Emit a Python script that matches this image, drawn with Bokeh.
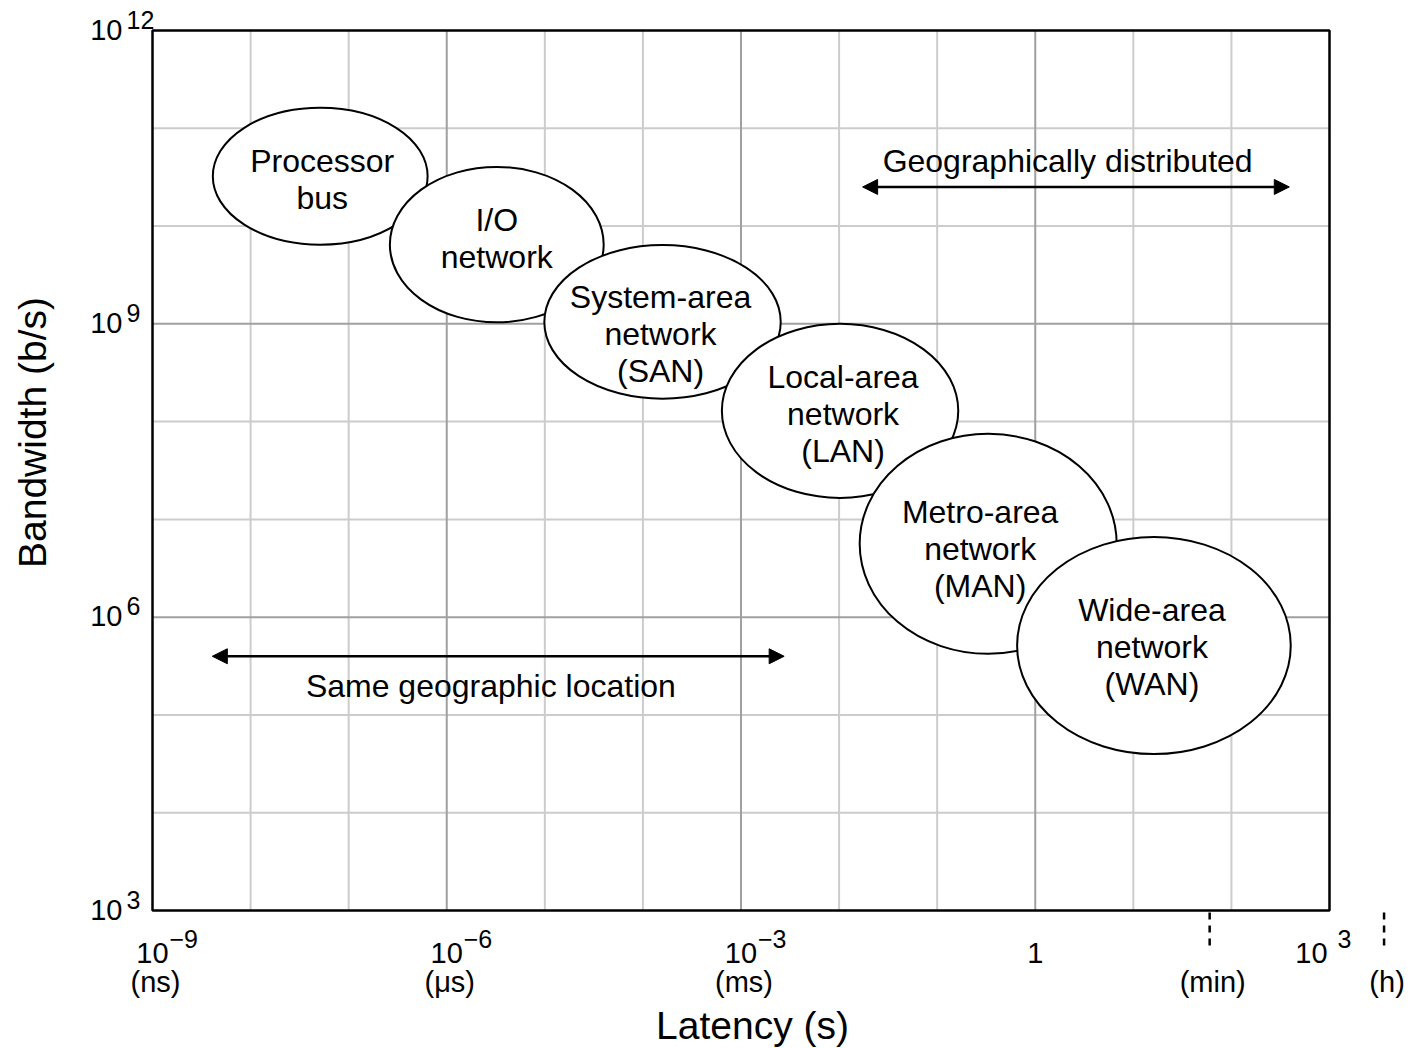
import math

from bokeh.core.properties import value
from bokeh.embed import file_html
from bokeh.models import Arrow, NormalHead, ColumnDataSource
from bokeh.plotting import figure
from bokeh.resources import INLINE

FONT = "Liberation Sans"

# Axes are in decades: log10 latency (s) and log10 bandwidth (b/s)
lat_min, lat_max = -9, 3
bw_min, bw_max = 3, 12

# Network classes: centre and extent of each region, in decades
net_lines = [
    ["Processor", "bus"],
    ["I/O", "network"],
    ["System-area", "network", "(SAN)"],
    ["Local-area", "network", "(LAN)"],
    ["Metro-area", "network", "(MAN)"],
    ["Wide-area", "network", "(WAN)"],
]
net_lat = [-7.29, -5.49, -3.80, -1.99, -0.48, 1.21]
net_bw = [10.51, 9.81, 9.02, 8.11, 6.75, 5.71]
net_lat_span = [2.19, 2.18, 2.41, 2.41, 2.62, 2.79]
net_bw_span = [1.40, 1.59, 1.57, 1.78, 2.25, 2.22]

# Locality ranges drawn as double-headed arrows
range_text = ["Same geographic location", "Geographically distributed"]
range_lat_lo = [-8.39, -1.76]
range_lat_hi = [-2.56, 2.59]
range_bw = [5.60, 10.40]
range_text_lat = [-5.55, 0.33]
range_text_bw = [5.18, 10.55]

# Tick labels
x_ticks = [-9, -6, -3, 0, 3]
x_tick_base = ["10", "10", "10", "1", "10"]
x_tick_exp = ["\u22129", "\u22126", "\u22123", "", "3"]
unit_lat = [-9, -6, -3, math.log10(60), math.log10(3600)]
unit_text = ["(ns)", "(\u03bcs)", "(ms)", "(min)", "(h)"]
marked_seconds = [60, 3600]
y_ticks = [3, 6, 9, 12]
y_tick_exp = ["3", "6", "9", "12"]

# Canvas and plot-area geometry (pixels)
W, H = 1415, 1048
PL, PR, PT, PB = 152, 1329, 30, 910
PX_X = (PR - PL) / (lat_max - lat_min)
PX_Y = (PB - PT) / (bw_max - bw_min)
BASE_FIX = 11  # lift alphabetic baselines to where the glyph rows should sit


def dx(px):
    return px / PX_X


def dy(px):
    return px / PX_Y


p = figure(
    width=W, height=H,
    x_range=(lat_min - dx(PL), lat_max + dx(W - PR)),
    y_range=(bw_min - dy(H - PB), bw_max + dy(PT)),
    output_backend="svg", toolbar_location=None,
    min_border=0,
)
p.xaxis.visible = False
p.yaxis.visible = False
p.xgrid.visible = False
p.ygrid.visible = False
p.background_fill_color = "white"
p.border_fill_color = "white"
p.outline_line_color = None

# One grid line per decade, darker every third decade
light_x = [t for t in range(lat_min + 1, lat_max) if t % 3]
dark_x = [t for t in range(lat_min + 1, lat_max) if t % 3 == 0]
light_y = [t for t in range(bw_min + 1, bw_max) if t % 3]
dark_y = [t for t in range(bw_min + 1, bw_max) if t % 3 == 0]
for xs, ys, col in ((light_x, light_y, "#cccccc"), (dark_x, dark_y, "#a0a0a0")):
    p.segment(x0=xs, x1=xs, y0=[bw_min] * len(xs), y1=[bw_max] * len(xs),
              line_color=col, line_width=2)
    p.segment(x0=[lat_min] * len(ys), x1=[lat_max] * len(ys), y0=ys, y1=ys,
              line_color=col, line_width=2)

# Plot frame
p.quad(left=[lat_min], right=[lat_max], bottom=[bw_min], top=[bw_max],
       fill_color=None, line_color="black", line_width=2.5)

# Network regions
src = ColumnDataSource(dict(x=net_lat, y=net_bw, w=net_lat_span, h=net_bw_span))
p.ellipse(x="x", y="y", width="w", height="h", source=src,
          fill_color="white", line_color="black", line_width=2)


def txt(xs, ys, texts, size, align="center", angle=0.0):
    p.text(x=xs, y=ys, text=texts, angle=angle, text_align=align,
           text_baseline="alphabetic", text_font=value(FONT),
           text_font_size=size, text_color="black")


# Region names, one text line per row, block centred in each region
nudge_x = [2, 0, -2, 3, -8, -2]
nudge_y = [3, -6, 12, 3, 5, 1]
LINE, CAP = 37, 22
tx, ty, tt = [], [], []
for lines, cx, cy, nx, ny in zip(net_lines, net_lat, net_bw, nudge_x, nudge_y):
    n = len(lines)
    for i, s in enumerate(lines):
        off = ny - (n - 1) * LINE / 2 + CAP / 2 + i * LINE - BASE_FIX
        tx.append(cx + dx(nx))
        ty.append(cy - dy(off))
        tt.append(s)
txt(tx, ty, tt, "32px")

# Locality arrows and captions
for lo, hi, lvl in zip(range_lat_lo, range_lat_hi, range_bw):
    p.add_layout(Arrow(
        x_start=lo, y_start=lvl, x_end=hi, y_end=lvl,
        start=NormalHead(size=15, fill_color="black", line_color="black", line_width=1),
        end=NormalHead(size=15, fill_color="black", line_color="black", line_width=1),
        line_color="black", line_width=2.5))
txt(range_text_lat, [b + dy(BASE_FIX) for b in range_text_bw], range_text, "32px")

# Dashed markers for one minute and one hour below the axis
mk = [math.log10(s) for s in marked_seconds]
p.segment(x0=mk, x1=mk, y0=[bw_min - dy(2)] * len(mk), y1=[bw_min - dy(38)] * len(mk),
          line_color="black", line_width=2.5, line_dash="7 6")

# Latency tick labels: base with a raised exponent, unit names below
for t, base, ex in zip(x_ticks, x_tick_base, x_tick_exp):
    shift = -18 if t == lat_max else 0
    gap = 10 if t == lat_max else 1
    txt([t + dx(shift)], [bw_min - dy(53 - BASE_FIX)], [base], "29px")
    if ex:
        txt([t + dx(shift + 16 + gap)], [bw_min - dy(39 - BASE_FIX)], [ex], "25px", align="left")
txt([u + dx(3) for u in unit_lat], [bw_min - dy(82 - BASE_FIX)] * len(unit_lat), unit_text, "29px")

# Bandwidth tick labels
txt([lat_min - dx(30)] * len(y_ticks), [t - dy(10 - BASE_FIX) for t in y_ticks],
    ["10"] * len(y_ticks), "29px", align="right")
txt([lat_min - dx(26)] * len(y_ticks), [t + dy(BASE_FIX) for t in y_ticks],
    y_tick_exp, "25px", align="left")

# Axis titles
txt([lat_min + dx(600)], [bw_min - dy(126 - BASE_FIX)], ["Latency (s)"], "39px")
txt([lat_min - dx(109 + BASE_FIX)], [bw_max - dy(402)], ["Bandwidth (b/s)"], "39px",
    angle=math.pi / 2)

open("out.html", "w").write(file_html(p, INLINE))
